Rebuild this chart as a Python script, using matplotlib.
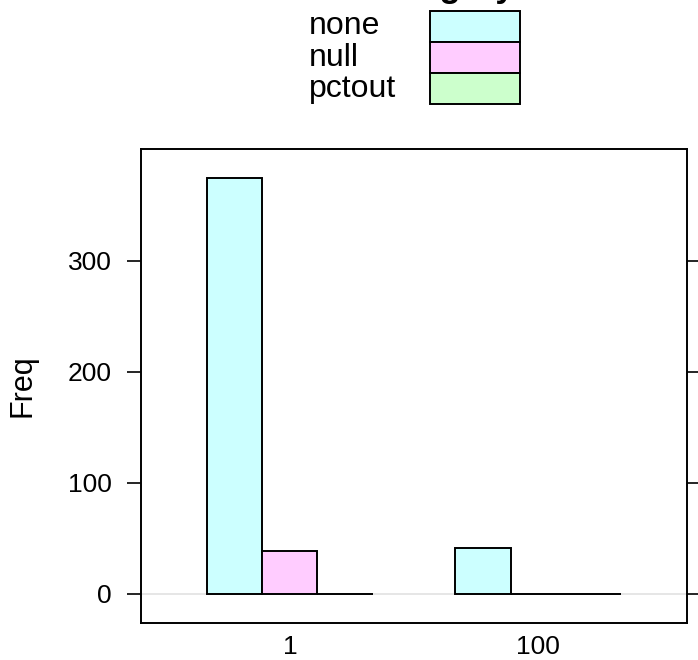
import matplotlib.pyplot as plt
import numpy as np
from matplotlib.patches import Rectangle

plt.rcParams['font.family'] = ['Liberation Sans', 'DejaVu Sans']

# Data
groups = ['1', '100']
categories = ['none', 'null', 'pctout']
freq_none = [374, 41]
freq_null = [39, 0]
freq_pctout = [0, 0]
colors = ['#CCFFFF', '#FFCCFF', '#CCFFCC']
yticks = [0, 100, 200, 300]

series = [freq_none, freq_null, freq_pctout]

fig = plt.figure(figsize=(6.98, 6.6), dpi=100)
ax = fig.add_axes([141 / 698, (660 - 623) / 660, 546 / 698, 474 / 660])

x = np.arange(1, len(groups) + 1)
w = 0.222
for i, (vals, col) in enumerate(zip(series, colors)):
    ax.bar(x + (i - 1) * w, vals, width=w, color=col, edgecolor='black',
           linewidth=1.4, zorder=3)

ax.axhline(0, color='#E6E6E6', linewidth=1.4, zorder=1)

ax.set_xlim(0.4, 2.6)
ax.set_ylim(-26.2, 400.4)
ax.set_xticks(x)
ax.set_xticklabels(groups)
ax.set_yticks(yticks)
ax.tick_params(axis='x', length=0, pad=9, labelsize=19)
ax.tick_params(axis='y', length=10, width=1.2, pad=11, labelsize=19,
               right=True, direction='out')
for s in ax.spines.values():
    s.set_linewidth(1.4)
ax.set_ylabel('Freq', fontsize=22, labelpad=22)

# legend (lattice style key on top)
fig.text(443 / 698, 1 - (-3) / 660, 'category', fontsize=25, fontweight='bold',
         ha='center', va='baseline')
row_top = [11, 42, 73]
row_h = 31
for name, col, top in zip(categories, colors, row_top):
    fig.patches.append(Rectangle((430 / 698, 1 - (top + row_h) / 660), 90 / 698,
                                 row_h / 660, transform=fig.transFigure,
                                 facecolor=col, edgecolor='black', linewidth=1.4))
    fig.text(309 / 698, 1 - (top + row_h / 2) / 660, name, fontsize=23,
             ha='left', va='center')

fig.savefig('out.png', dpi=100)
